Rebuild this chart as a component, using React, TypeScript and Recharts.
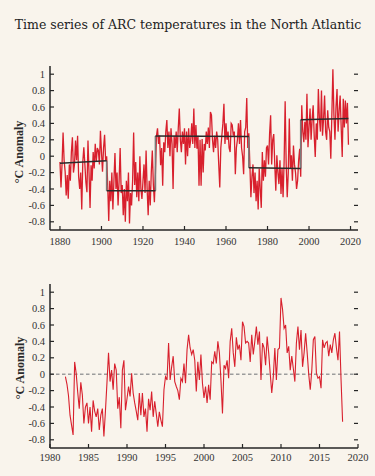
import { Line, LineChart, ReferenceLine, XAxis, YAxis } from 'recharts'

document.body.style.margin = '0'

const RED = '#d8202d'
const INK = '#262626'
const BG = '#f9f4ec'
const SERIF = '"Liberation Serif", "DejaVu Serif", serif'
const PLOT_W = 308

// top panel: half-yearly anomalies, 1880 onwards
const TOP_START = 1880
const TOP_STEP = 0.5
const topEarly = [
  -0.07, -0.38, -0.1, 0.29, -0.05, -0.19, -0.48, -0.23, -0.52, -0.1, -0.3, 0.05, 0.23, -0.2, -0.1, 0.19, -0.05, 0.25, -0.25, -0.4,
  -0.2, -0.65, -0.07, 0.11, -0.1, -0.32, -0.44, 0.19, -0.2, -0.63, -0.11, -0.3, 0.05, -0.15, 0.15, -0.07, 0.1, 0.07, -0.1, 0.31,
  0.05, -0.19, 0.1, 0.26, -0.05, 0.0, -0.35, -0.79, -0.3, -0.55, -0.2, -0.65, -0.3, 0.04, -0.4, -0.2, -0.6, -0.3, 0.1, -0.45,
  -0.35, -0.72, -0.4, -0.8, -0.3, -0.55, -0.2, -0.82, -0.45, -0.6, -0.3, 0.29, -0.35, -0.07, -0.5, -0.2, -0.55, 0.0, -0.4, -0.52,
  -0.3, -0.1, -0.45, 0.07, -0.4, -0.72, -0.3, -0.6, -0.2, 0.07, -0.35, -0.56, -0.2, 0.25, 0.34, 0.15, 0.25, -0.11, 0.1, -0.36,
]
const topMid = [
  0.17, 0.05, 0.3, 0.44, 0.1, 0.3, 0.0, 0.34, 0.15, -0.4, 0.25, 0.1, 0.3, 0.05, 0.34, 0.58, 0.2, 0.05, 0.3, 0.15,
  0.34, -0.1, 0.3, 0.0, 0.34, 0.1, 0.2, 0.4, 0.15, 0.58, 0.1, 0.38, 0.09, 0.25, -0.36, 0.2, -0.36, 0.21, -0.2, 0.15,
  0.07, 0.3, 0.15, 0.35, 0.1, 0.54, 0.5, 0.2, 0.05, 0.25, 0.1, 0.3, 0.2, -0.1, -0.38, 0.1, 0.25, 0.4, 0.64, 0.15,
  0.4, 0.2, 0.3, 0.1, 0.05, 0.4, 0.38, 0.25, 0.3, -0.22, 0.1, 0.2, 0.4, 0.15, 0.44, 0.1, 0.0, -0.22, 0.3, 0.35,
  0.71, 0.1, 0.28, -0.1, -0.5, -0.25, -0.1, -0.45, -0.2, -0.55, -0.3, -0.65, -0.15, -0.4, -0.63, 0.05, -0.3, -0.05, -0.25, 0.1,
]
const topLate = [
  0.13, -0.1, 0.27, 0.5, -0.1, 0.2, 0.27, -0.1, -0.42, 0.01, -0.2, -0.34, -0.05, -0.46, -0.15, -0.5, -0.07, 0.67, -0.1, -0.5,
  -0.2, 0.46, -0.15, 0.01, -0.3, 0.13, -0.1, -0.2, -0.4, -0.3, -0.05, 0.09, -0.25, 0.62, 0.3, 0.17, 0.42, 0.2, 0.76, 0.11,
  0.35, 0.58, 0.2, 0.45, 0.62, 0.25, -0.01, 0.4, 0.2, 0.82, 0.46, 0.3, 0.8, 0.25, 0.45, 0.74, 0.3, 0.2, 0.56, 0.35,
  0.3, -0.03, 0.5, 1.06, 0.5, 0.2, 0.6, 0.82, 0.3, 0.55, 0.74, 0.35, -0.01, 0.7, 0.35, 0.68, 0.4, 0.65, 0.14,
]

// regime shifts in the top panel
const shiftYears = [1880, 1902.5, 1926, 1971, 1996, 2019]
const regimeStart = [-0.085, -0.42, 0.245, -0.14, 0.445]
const regimeEnd = [-0.055, -0.42, 0.24, -0.15, 0.46]

// bottom panel: 1982 onwards, five samples a year
const BOTTOM_START = 1982
const BOTTOM_STEP = 0.2
const bottomEarly = [
  -0.03, -0.12, -0.26, -0.5, -0.62,
  -0.74, 0.15, 0.01, -0.22, -0.42,
  -0.1, -0.25, -0.6, -0.4, -0.35,
  -0.6, -0.4, -0.7, -0.32, -0.45,
  -0.52, -0.42, -0.68, -0.5, -0.42,
  -0.76, -0.45, -0.1, 0.26, -0.09,
  0.05, -0.19, 0.13, 0.05, -0.42,
  -0.28, -0.66, 0.05, 0.17, -0.44,
  -0.3, -0.15, -0.27, 0.01, -0.23,
  -0.35, -0.45, -0.56, -0.23, -0.5,
  -0.23, -0.52, -0.42, -0.7, -0.3,
  -0.44, -0.21, -0.52, -0.33, -0.48,
  -0.64, -0.46, -0.56, -0.64, -0.19,
  -0.03, -0.07, 0.38, -0.07, 0.09,
  0.22, -0.09, -0.15, -0.2, -0.31,
  -0.05, -0.09, 0.13, -0.11, 0.3,
  0.48, 0.32, 0.24, 0.3, 0.17,
  -0.21, 0.15, -0.07, 0.24, -0.11,
]
const bottomLate = [
  -0.29, -0.15, -0.35, -0.13, -0.31,
  0.15, 0.13, 0.28, 0.13, 0.4,
  0.26, -0.07, -0.48, 0.11, 0.07,
  0.17, -0.05, 0.4, 0.56, 0.26,
  0.09, 0.45, 0.3, 0.36, 0.17,
  0.64, 0.58, 0.38, 0.4, 0.38,
  0.15, 0.48, 0.24, 0.4, 0.58,
  0.36, 0.52, -0.07, 0.38, 0.32,
  0.11, 0.46, 0.26, 0.01, -0.23,
  -0.03, 0.32, -0.07, 0.3, 0.32,
  0.93, 0.79, 0.56, 0.6, 0.26,
  0.34, 0.05, 0.22, 0.07, -0.09,
  0.38, 0.58, 0.3, 0.54, 0.09,
  0.26, 0.5, 0.26, 0.0, -0.19,
  0.05, 0.42, 0.46, 0.01, -0.05,
  -0.03, -0.17, 0.42, 0.32, 0.38,
  0.4, 0.22, 0.36, 0.26, 0.42,
  0.5, 0.32, 0.17, 0.52, -0.07,
  -0.58,
]

const yTicks = [-0.8, -0.6, -0.4, -0.2, 0, 0.2, 0.4, 0.6, 0.8, 1]
const topYearTicks = [1880, 1900, 1920, 1940, 1960, 1980, 2000, 2020]
const bottomYearTicks = [1980, 1985, 1990, 1995, 2000, 2005, 2010, 2015, 2020]

const topSeries = [...topEarly, ...topMid, ...topLate].map((v, i) => ({
  year: TOP_START + i * TOP_STEP,
  anomaly: v,
}))
const bottomSeries = [...bottomEarly, ...bottomLate].map((v, i) => ({
  year: BOTTOM_START + i * BOTTOM_STEP,
  anomaly: v,
}))

const meanLine: { year: number; mean: number | null }[] = []
const shiftLine: { year: number; mean: number | null }[] = []
regimeStart.forEach((s, i) => {
  const a = shiftYears[i]
  const b = shiftYears[i + 1]
  meanLine.push({ year: a, mean: s }, { year: b, mean: regimeEnd[i] }, { year: b, mean: null })
  if (i < regimeStart.length - 1) {
    shiftLine.push({ year: b, mean: regimeEnd[i] }, { year: b, mean: regimeStart[i + 1] }, { year: b, mean: null })
  }
})

function YTick(props: any) {
  const { x, y, payload } = props
  return (
    <g>
      <line x1={x} x2={x + 4} y1={y} y2={y} stroke={INK} strokeWidth={1.2} />
      <line x1={x + PLOT_W - 4} x2={x + PLOT_W} y1={y} y2={y} stroke={INK} strokeWidth={1.2} />
      <text x={x - 5} y={y + 3.5} textAnchor="end" fontSize={10.5} fill="#333" fontFamily={SERIF}>
        {payload.value}
      </text>
    </g>
  )
}

function XTick(props: any) {
  const { x, y, payload, gap } = props
  return (
    <g>
      <line x1={x} x2={x} y1={y} y2={y - 4} stroke={INK} strokeWidth={1.2} />
      <text x={x} y={y + gap} textAnchor="middle" fontSize={10.5} fill="#333" fontFamily={SERIF}>
        {payload.value}
      </text>
    </g>
  )
}

const axisLine = { stroke: INK, strokeWidth: 1.5 }

export default function App() {
  return (
    <div style={{ position: 'relative', width: 375, height: 476, background: BG, overflow: 'hidden' }}>
      <svg width={375} height={476} style={{ position: 'absolute', left: 0, top: 0 }}>
        <text
          x={188}
          y={29}
          textAnchor="middle"
          fontFamily='"DejaVu Serif", serif'
          fontSize={12.5}
          fill="#222"
        >
          Time series of ARC temperatures in the North Atlantic
        </text>
        <text
          transform="translate(22.5, 152) rotate(-90)"
          textAnchor="middle"
          fontFamily={SERIF}
          fontWeight="bold"
          fontSize={12}
          fill="#2a2a2a"
        >
          °C Anomaly
        </text>
        <text
          transform="translate(24, 368) rotate(-90)"
          textAnchor="middle"
          fontFamily={SERIF}
          fontWeight="bold"
          fontSize={12}
          fill="#2a2a2a"
        >
          °C Anomaly
        </text>
      </svg>

      <div style={{ position: 'absolute', left: 0, top: 0 }}>
        <LineChart width={375} height={260} data={topSeries} margin={{ top: 66, right: 17, bottom: 0, left: 0 }}>
          <XAxis
            dataKey="year"
            type="number"
            domain={[1875.2, 2023.6]}
            ticks={topYearTicks}
            allowDataOverflow
            height={30}
            tickSize={0}
            tickMargin={0}
            tickLine={false}
            axisLine={axisLine}
            tick={(p: any) => <XTick {...p} gap={15} />}
            interval={0}
          />
          <YAxis
            type="number"
            domain={[-0.9, 1.1]}
            ticks={yTicks}
            allowDataOverflow
            width={50}
            tickSize={0}
            tickMargin={0}
            tickLine={false}
            axisLine={axisLine}
            tick={(p: any) => <YTick {...p} />}
            interval={0}
          />
          <Line
            dataKey="anomaly"
            type="linear"
            stroke={RED}
            strokeWidth={1.3}
            dot={false}
            isAnimationActive={false}
          />
          <Line
            data={shiftLine}
            dataKey="mean"
            type="linear"
            stroke="#7a7a7a"
            strokeWidth={1.6}
            dot={false}
            isAnimationActive={false}
          />
          <Line
            data={meanLine}
            dataKey="mean"
            type="linear"
            stroke="#2a2a2a"
            strokeWidth={1.5}
            dot={false}
            isAnimationActive={false}
          />
        </LineChart>
      </div>

      <div style={{ position: 'absolute', left: 0, top: 250 }}>
        <LineChart width={375} height={226} data={bottomSeries} margin={{ top: 34, right: 17, bottom: 0, left: 0 }}>
          <XAxis
            dataKey="year"
            type="number"
            domain={[1980, 2020]}
            ticks={bottomYearTicks}
            allowDataOverflow
            height={28}
            tickSize={0}
            tickMargin={0}
            tickLine={false}
            axisLine={axisLine}
            tick={(p: any) => <XTick {...p} gap={12.5} />}
            interval={0}
          />
          <YAxis
            type="number"
            domain={[-0.9, 1.1]}
            ticks={yTicks}
            allowDataOverflow
            width={50}
            tickSize={0}
            tickMargin={0}
            tickLine={false}
            axisLine={axisLine}
            tick={(p: any) => <YTick {...p} />}
            interval={0}
          />
          <ReferenceLine y={0} stroke="#9c9c9c" strokeWidth={1.5} strokeDasharray="3.5 2.5" />
          <Line
            dataKey="anomaly"
            type="linear"
            stroke={RED}
            strokeWidth={1.1}
            dot={false}
            isAnimationActive={false}
          />
        </LineChart>
      </div>
    </div>
  )
}
